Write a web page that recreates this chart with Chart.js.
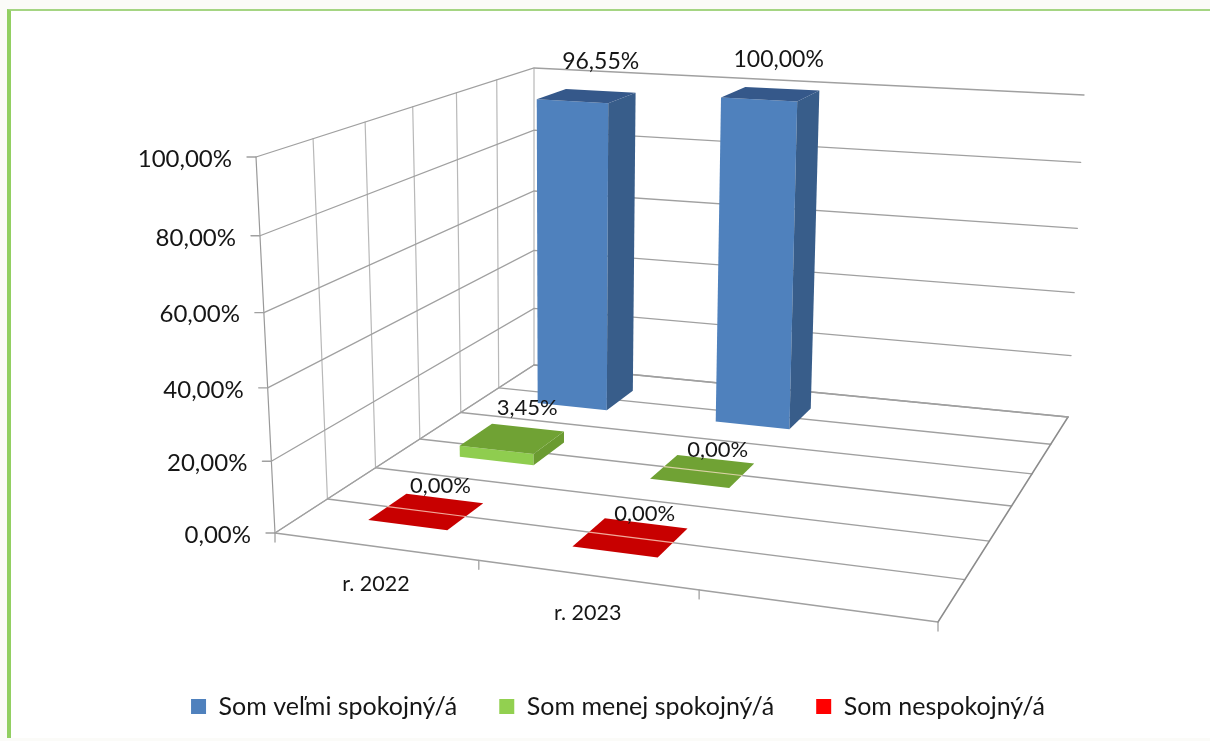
<!DOCTYPE html>
<html>
<head>
<meta charset="utf-8">
<style>
  html, body { margin: 0; padding: 0; background: #fbfbf8; overflow: hidden; }
  #panel { position: absolute; left: 7px; top: 9px; width: 1203px; height: 727px; background: #fff; border-left: 4px solid #92cf62; border-top: 2px solid #a5d583; }
  #chart { position: absolute; left: 0; top: 0; }
</style>
<script src="https://cdn.jsdelivr.net/npm/chart.js@4"></script>
</head>
<body>
<div id="panel"></div>
<canvas id="chart" width="1210" height="741"></canvas>
<script>
const categories = ["r. 2022", "r. 2023", ""];
const seriesNames = ["Som veľmi spokojný/á", "Som menej spokojný/á", "Som nespokojný/á"];
const veryValues = [96.55, 100, null];
const lessValues = [3.45, 0, null];
const notValues = [0, 0, null];

const FONT = "Lato, sans-serif";
const GRID = "#a0a0a0";
const INK = "#161616";

// 3D 盒子的八個角 (螢幕座標), 其餘都由比例換算
const floorQuad = [[275, 533], [938, 622], [1068, 417], [534, 365]];
const ceilQuad = [[256, 157], [952, 204], [1084, 95], [534, 68]];
const depthSteps = 6;
const heightBend = 0.06; // 高度方向的透視

// 個別資料標籤的微調 [dx, dy], key = 系列,類別
const labelNudge = { "0,1": [-6, 1], "1,0": [1, -4], "1,1": [1, 5], "2,1": [0, 3] };

function quadMap(q) {
  const [[x0, y0], [x1, y1], [x2, y2], [x3, y3]] = q;
  const dx1 = x1 - x2, dx2 = x3 - x2, sx = x0 - x1 + x2 - x3;
  const dy1 = y1 - y2, dy2 = y3 - y2, sy = y0 - y1 + y2 - y3;
  const den = dx1 * dy2 - dx2 * dy1;
  const g = (sx * dy2 - dx2 * sy) / den;
  const h = (dx1 * sy - sx * dy1) / den;
  const a = x1 - x0 + g * x1, b = x3 - x0 + h * x3;
  const d = y1 - y0 + g * y1, e = y3 - y0 + h * y3;
  return (u, v) => {
    const n = g * u + h * v + 1;
    return [(a * u + b * v + x0) / n, (d * u + e * v + y0) / n];
  };
}
const floorAt = quadMap(floorQuad);
const ceilAt = quadMap(ceilQuad);

function project(u, v, w) {
  const f = floorAt(u, v), c = ceilAt(u, v);
  const t = w / (1 + heightBend * (1 - w));
  return [f[0] + (c[0] - f[0]) * t, f[1] + (c[1] - f[1]) * t];
}

function line(ctx, pts, color, width) {
  ctx.beginPath();
  pts.forEach((p, i) => (i ? ctx.lineTo(p[0], p[1]) : ctx.moveTo(p[0], p[1])));
  ctx.strokeStyle = color;
  ctx.lineWidth = width;
  ctx.stroke();
}

function face(ctx, pts, color) {
  ctx.beginPath();
  pts.forEach((p, i) => (i ? ctx.lineTo(p[0], p[1]) : ctx.moveTo(p[0], p[1])));
  ctx.closePath();
  ctx.fillStyle = color;
  ctx.fill();
}

const fmt = (v) => v.toFixed(2).replace(".", ",") + "%";

const bar3d = {
  id: "bar3d",
  beforeDatasetsDraw(chart) {
    const { ctx, scales } = chart;
    const xs = scales.x, ys = scales.y;
    const toW = (v) => (ys.bottom - ys.getPixelForValue(v)) / (ys.bottom - ys.top);
    const toU = (i) => (xs.getPixelForValue(i) - xs.left) / (xs.right - xs.left);
    const nCat = categories.length;

    ctx.save();
    ctx.lineCap = "round";

    // 牆面與地板格線
    for (let k = 0; k <= depthSteps; k++) {
      const v = k / depthSteps;
      line(ctx, [project(0, v, 0), project(0, v, 1)], k === 0 ? "#999" : "#b8b8b8", 1.2);
      line(ctx, [project(0, v, 0), project(1, v, 0)], GRID, k === 0 ? 1.6 : 1.4);
    }
    line(ctx, [project(1, 0, 0), project(1, 1, 0)], "#8c8c8c", 1.5);
    line(ctx, [project(0, 0, 0), project(0, 1, 0)], "#b0b0b0", 1.2);

    ys.ticks.forEach((t) => {
      const w = toW(t.value);
      line(ctx, [project(0, 0, w), project(0, 1, w), project(1, 1, w)], GRID, 1.3);
      const p = project(0, 0, w);
      line(ctx, [[p[0] - 9, p[1]], p], GRID, 1.3);
      ctx.font = "24px " + FONT;
      ctx.textAlign = "right";
      ctx.textBaseline = "middle";
      ctx.fillStyle = INK;
      ctx.fillText(fmt(t.value), p[0] - 24, p[1] + 2);
    });

    // X 軸刻度與類別文字
    for (let i = 0; i <= nCat; i++) {
      const p = project(i / nCat, 0, 0);
      line(ctx, [p, [p[0], p[1] + 9]], GRID, 1.3);
    }
    ctx.font = "21.5px " + FONT;
    ctx.textAlign = "center";
    ctx.fillStyle = INK;
    categories.forEach((c, i) => {
      const p = project(toU(i), 0, 0);
      ctx.fillText(c, p[0] + 1, p[1] + 38);
    });

    // 由後往前畫柱子
    const styles = [
      { front: "#4f81bd", side: "#385d8a", top: "#35588a" },
      { front: "#8fcd4f", side: "#6b9b31", top: "#70a234" },
      { front: "#ff0000", side: "#b00000", top: "#c80000" },
    ];
    const du = 0.066, dv = 0.066, shift = 0.004;
    const labels = [];
    chart.data.datasets.forEach((ds, s) => {
      const vc = (nCat - 1 - s + 0.5) / nCat;
      const st = styles[s];
      ds.data.forEach((val, i) => {
        if (val === null) return;
        const uc = toU(i) + shift, w = toW(val);
        const u0 = uc - du, u1 = uc + du, v0 = vc - dv, v1 = vc + dv;
        if (val > 0) {
          face(ctx, [project(u0, v0, 0), project(u1, v0, 0), project(u1, v0, w), project(u0, v0, w)], st.front);
          face(ctx, [project(u1, v0, 0), project(u1, v1, 0), project(u1, v1, w), project(u1, v0, w)], st.side);
        }
        const topFace = [project(u0, v0, w), project(u1, v0, w), project(u1, v1, w), project(u0, v1, w)];
        face(ctx, topFace, st.top);
        if (val === 0) {
          line(ctx, [project(u0, vc, 0), project(u1, vc, 0)], "rgba(255,225,205,0.75)", 1.2);
        }
        const c = project(uc, vc, w);
        const [nx, ny] = labelNudge[s + "," + i] || [0, 0];
        labels.push({ text: fmt(val), x: c[0] + 14 + nx, y: c[1] - 26 - w * 9 + ny, size: w > 0.5 ? 23 : 22 });
      });
    });

    ctx.textAlign = "center";
    ctx.textBaseline = "middle";
    ctx.fillStyle = INK;
    labels.forEach((l) => {
      ctx.font = l.size + "px " + FONT;
      ctx.fillText(l.text, l.x, l.y);
    });
    ctx.restore();
    return false;
  },
};

new Chart(document.getElementById("chart"), {
  type: "bar",
  data: {
    labels: categories,
    datasets: [
      { label: seriesNames[0], data: veryValues, backgroundColor: "#4f81bd" },
      { label: seriesNames[1], data: lessValues, backgroundColor: "#92d050" },
      { label: seriesNames[2], data: notValues, backgroundColor: "#ff0000" },
    ],
  },
  plugins: [bar3d],
  options: {
    responsive: false,
    animation: false,
    layout: { padding: { left: 26, bottom: 12 } },
    plugins: {
      tooltip: { enabled: false },
      legend: {
        position: "bottom",
        labels: {
          boxWidth: 15,
          boxHeight: 15,
          padding: 42,
          color: INK,
          font: { family: FONT, size: 25 },
        },
      },
    },
    scales: {
      x: { display: false },
      y: { display: false, min: 0, max: 100, ticks: { stepSize: 20 } },
    },
  },
});
</script>
</body>
</html>
